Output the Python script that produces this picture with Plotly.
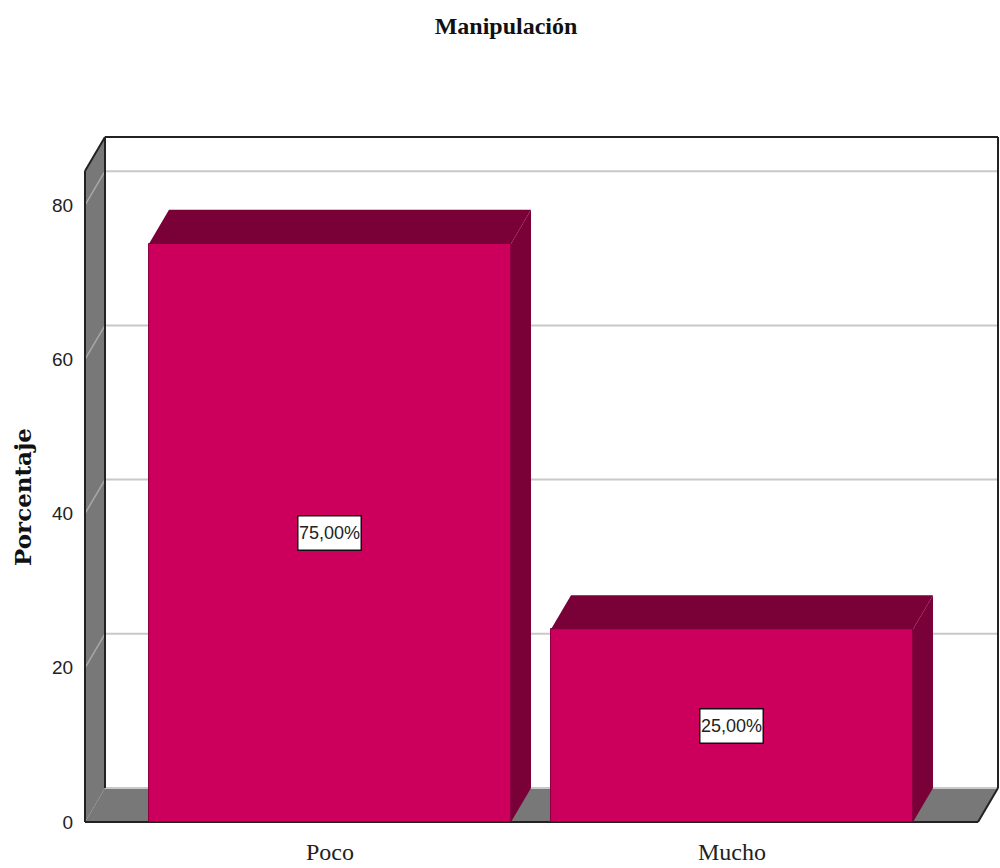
import plotly.graph_objects as go

categories = ["Poco", "Mucho"]
values = [75, 25]
labels = ["75,00%", "25,00%"]
y_ticks = [0, 20, 40, 60, 80]
title_text = "Manipulación"
y_title = "Porcentaje"

W, H = 1000, 868
PX_PER_CAT = 402.0
PX_PER_UNIT = 7.71
X0_PX, BASE_PX = 330.0, 822.0
DX = 20 / PX_PER_CAT
DY = 34 / PX_PER_UNIT
BAR_W = 362 / PX_PER_CAT

L, R, T, B = 80, 1000, 135, 826
x_range = [(L - X0_PX) / PX_PER_CAT, (R - X0_PX) / PX_PER_CAT]
y_range = [(BASE_PX - B) / PX_PER_UNIT, (BASE_PX - T) / PX_PER_UNIT]

XL = (85 - X0_PX) / PX_PER_CAT
XR = (978 - X0_PX) / PX_PER_CAT
YT = (BASE_PX - 171) / PX_PER_UNIT

FRONT, DARK, GREY, GRID, INK = "#CC005C", "#7A0038", "#787878", "#C8C8C8", "#222222"


def poly(xs, ys, color, layer="below"):
    path = "M " + " L ".join(f"{x},{y}" for x, y in zip(xs, ys)) + " Z"
    return dict(type="path", path=path, xref="x", yref="y", fillcolor=color,
                line=dict(width=0), layer=layer)


def seg(x0, y0, x1, y1, color=INK, width=2):
    return dict(type="line", x0=x0, y0=y0, x1=x1, y1=y1, xref="x", yref="y",
                line=dict(color=color, width=width), layer="below")


shapes = [
    poly([XL, XL + DX, XL + DX, XL], [0, DY, YT + DY, YT], GREY),
    poly([XL, XR, XR + DX, XL + DX], [0, 0, DY, DY], GREY),
]
for t in y_ticks:
    if t > 0:
        shapes.append(seg(XL, t, XL + DX, t + DY, "#A8A8A8", 1.5))
    shapes.append(seg(XL + DX, t + DY, XR + DX, t + DY, GRID, 2))
shapes += [
    seg(XL, 0, XL, YT), seg(XL + DX, DY, XL + DX, YT + DY),
    seg(XL, YT, XL + DX, YT + DY), seg(XL + DX, YT + DY, XR + DX, YT + DY),
    seg(XR + DX, DY, XR + DX, YT + DY), seg(XL, 0, XR, 0),
    seg(XR, 0, XR + DX, DY),
]

fig = go.Figure()
positions = list(range(len(categories)))
fig.add_trace(go.Bar(x=positions, y=values, width=BAR_W,
                     marker=dict(color=FRONT, line=dict(color="#8A0040", width=1)),
                     hoverinfo="skip", showlegend=False))
for p, v in zip(positions, values):
    a, b = p - BAR_W / 2, p + BAR_W / 2
    fig.add_trace(go.Scatter(x=[a, b, b + DX, a + DX, a], y=[v, v, v + DY, v + DY, v],
                             mode="lines", fill="toself", fillcolor=DARK,
                             line=dict(width=0), hoverinfo="skip", showlegend=False))
    fig.add_trace(go.Scatter(x=[b, b + DX, b + DX, b, b], y=[0, DY, v + DY, v, 0],
                             mode="lines", fill="toself", fillcolor=DARK,
                             line=dict(width=0), hoverinfo="skip", showlegend=False))

annotations = [
    dict(x=p, y=v / 2, text=lab, showarrow=False, xref="x", yref="y",
         font=dict(family="Liberation Sans", size=18, color="#222222"),
         width=62, height=33, align="center", valign="middle", xshift=-1,
         bgcolor="white", bordercolor="#111111", borderwidth=1.5, borderpad=0)
    for p, v, lab in zip(positions, values, labels)
]
annotations.append(
    dict(x=(22 - L) / (R - L), xref="paper", xanchor="center",
         y=(BASE_PX - 497) / PX_PER_UNIT, yref="y", yanchor="middle",
         text=f"<b>{y_title}</b>", textangle=-90, showarrow=False,
         font=dict(family="DejaVu Serif", size=23, color="#111111"))
)

fig.update_layout(
    width=W, height=H, autosize=False,
    margin=dict(l=L, r=W - R, t=T, b=H - B, pad=0),
    paper_bgcolor="white", plot_bgcolor="white",
    title=dict(text=f"<b>{title_text}</b>", x=0.506, xanchor="center", xref="container",
               y=1 - 26 / H, yanchor="middle", yref="container",
               font=dict(family="Liberation Serif", size=24, color="#111111")),
    xaxis=dict(range=x_range, tickmode="array", tickvals=positions, ticktext=categories,
               automargin=False,
               showgrid=False, zeroline=False, showline=False, ticks="outside", ticklen=4,
               tickcolor="rgba(0,0,0,0)",
               tickfont=dict(family="Liberation Serif", size=24, color="#222222")),
    yaxis=dict(range=y_range, tickmode="array", tickvals=y_ticks,
               automargin=False,
               showgrid=False, zeroline=False, showline=False, ticks="outside", ticklen=2,
               tickcolor="rgba(0,0,0,0)",
               tickfont=dict(family="Liberation Sans", size=19, color="#222222")),
    shapes=shapes, annotations=annotations, bargap=0,
)

fig.write_html("out.html", post_script="document.body.style.margin='0';",
               config={"displayModeBar": False})
